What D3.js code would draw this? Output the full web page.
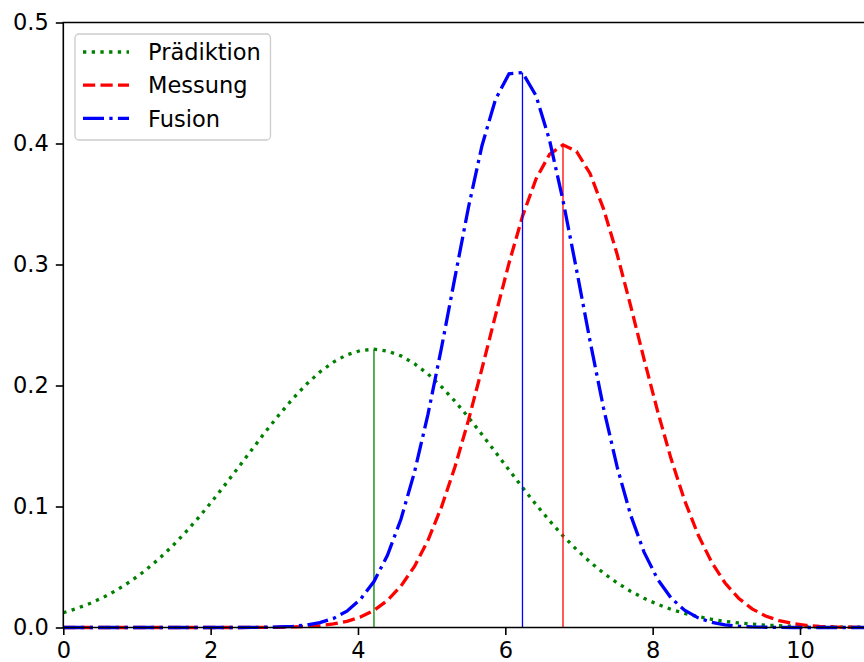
<!DOCTYPE html>
<html lang="de">

<head>
    <meta charset="UTF-8">
    <title>Prädiktion / Messung / Fusion</title>
    <style>
        body {
            margin: 0;
            background: white;
        }

        #svg {
            display: block;
            font-family: "DejaVu Sans", sans-serif;
        }
    </style>
    <script src="https://d3js.org/d3.v7.min.js"></script>
</head>

<body>
    <svg id="svg"></svg>
    <script>
        // x grid of the sampled curves (61 samples from 0 to 11)
        const xs = [0, 0.183, 0.367, 0.55, 0.733, 0.917, 1.1, 1.283, 1.467, 1.65,
            1.833, 2.017, 2.2, 2.383, 2.567, 2.75, 2.933, 3.117, 3.3, 3.483,
            3.667, 3.85, 4.033, 4.217, 4.4, 4.583, 4.767, 4.95, 5.133, 5.317,
            5.5, 5.683, 5.867, 6.05, 6.233, 6.417, 6.6, 6.783, 6.967, 7.15,
            7.333, 7.517, 7.7, 7.883, 8.067, 8.25, 8.433, 8.617, 8.8, 8.983,
            9.167, 9.35, 9.533, 9.717, 9.9, 10.083, 10.267, 10.45, 10.633, 10.817, 11];

        const praediktion = [0.0122, 0.0157, 0.0200, 0.0251, 0.0312, 0.0383, 0.0465, 0.0559, 0.0664, 0.0780,
            0.0906, 0.1041, 0.1183, 0.1328, 0.1476, 0.1622, 0.1761, 0.1892, 0.2010, 0.2112,
            0.2194, 0.2254, 0.2289, 0.2300, 0.2285, 0.2245, 0.2180, 0.2095, 0.1990, 0.1869,
            0.1737, 0.1595, 0.1449, 0.1302, 0.1157, 0.1016, 0.0883, 0.0758, 0.0644, 0.0541,
            0.0450, 0.0369, 0.0300, 0.0241, 0.0192, 0.0150, 0.0117, 0.0090, 0.0068, 0.0051,
            0.0038, 0.0028, 0.0020, 0.0015, 0.0010, 0.0007, 0.0005, 0.0004, 0.0002, 0.0002, 0.0001];

        const messung = [0, 0, 0, 0, 0, 0, 0, 0, 0, 0,
            0, 0, 0, 0, 0.0001, 0.0001, 0.0002, 0.0005, 0.0009, 0.0016,
            0.0029, 0.0051, 0.0087, 0.0142, 0.0224, 0.0342, 0.0505, 0.0721, 0.0995, 0.1328,
            0.1714, 0.2139, 0.2581, 0.3011, 0.3398, 0.3707, 0.3910, 0.3989, 0.3934, 0.3752,
            0.3460, 0.3086, 0.2661, 0.2218, 0.1788, 0.1394, 0.1051, 0.0766, 0.0540, 0.0368,
            0.0242, 0.0154, 0.0095, 0.0057, 0.0033, 0.0018, 0.0010, 0.0005, 0.0003, 0.0001, 0.0001];

        const fusion = [0, 0, 0, 0, 0, 0, 0, 0, 0, 0,
            0, 0, 0, 0, 0.0001, 0.0002, 0.0005, 0.0010, 0.0020, 0.0040,
            0.0075, 0.0135, 0.0232, 0.0380, 0.0597, 0.0895, 0.1284, 0.1761, 0.2310, 0.2896,
            0.3473, 0.3982, 0.4365, 0.4576, 0.4586, 0.4395, 0.4028, 0.3529, 0.2956, 0.2368,
            0.1814, 0.1329, 0.0931, 0.0623, 0.0399, 0.0244, 0.0143, 0.0080, 0.0043, 0.0022,
            0.0011, 0.0005, 0.0002, 0.0001, 0, 0, 0, 0, 0, 0, 0];

        const seriesNames = ['Prädiktion', 'Messung', 'Fusion'];
        const xTicks = [0, 2, 4, 6, 8, 10];
        const yTicks = [0, 0.1, 0.2, 0.3, 0.4, 0.5];

        const width = 864;
        const height = 662;
        const margin = { top: 22.5, left: 63.3, bottom: 34.5 };
        const plotW = 11 * 73.67;   // x axis runs to 11, cut off by the right edge
        const plotH = height - margin.top - margin.bottom;
        const fontSize = '22.5px';

        const styles = [
            { color: '#008000', dash: '3.3,5.4' },
            { color: '#ff0000', dash: '12.2,5.3' },
            { color: '#0000ff', dash: '21,5.3,3.3,5.3' }
        ];
        const series = [praediktion, messung, fusion];

        const svg = d3.select('#svg')
            .attr('width', width)
            .attr('height', height);

        const x = d3.scaleLinear().domain([0, 11]).range([0, plotW]);
        const y = d3.scaleLinear().domain([0, 0.5]).range([plotH, 0]);

        const g = svg.append('g')
            .attr('transform', 'translate(' + margin.left + ',' + margin.top + ')');

        const line = d3.line()
            .x((d, i) => x(xs[i]))
            .y(d => y(d));

        // curves + vertical line at each sampled maximum
        series.forEach(function (vals, s) {
            g.append('path')
                .datum(vals)
                .attr('d', line)
                .attr('fill', 'none')
                .attr('stroke', styles[s].color)
                .attr('stroke-width', 3.3)
                .attr('stroke-dasharray', styles[s].dash);
            const im = d3.maxIndex(vals);
            g.append('line')
                .attr('x1', x(xs[im]))
                .attr('x2', x(xs[im]))
                .attr('y1', y(0))
                .attr('y2', y(vals[im]))
                .attr('stroke', styles[s].color)
                .attr('stroke-width', 1.3);
        });

        // axes
        const xAxis = g.append('g')
            .attr('transform', 'translate(0,' + plotH + ')')
            .call(d3.axisBottom(x).tickValues(xTicks).tickSize(7.5).tickPadding(7).tickFormat(d3.format('d')));
        const yAxis = g.append('g')
            .call(d3.axisLeft(y).tickValues(yTicks).tickSize(7.5).tickPadding(7).tickFormat(d3.format('.1f')));
        [xAxis, yAxis].forEach(function (a) {
            a.select('.domain').remove();
            a.selectAll('line').attr('stroke', 'black').attr('stroke-width', 1.6);
            a.selectAll('text')
                .attr('fill', 'black')
                .style('font-family', '"DejaVu Sans", sans-serif')
                .style('font-size', fontSize);
        });

        // spines (left, bottom, top)
        g.append('path')
            .attr('d', 'M' + x(11) + ',0H0V' + plotH + 'H' + x(11))
            .attr('fill', 'none')
            .attr('stroke', 'black')
            .attr('stroke-width', 1.6);

        // legend
        const legend = g.append('g')
            .attr('transform', 'translate(' + (75 - margin.left) + ',' + (34 - margin.top) + ')');
        legend.append('rect')
            .attr('width', 195.5)
            .attr('height', 106)
            .attr('rx', 4)
            .attr('fill', 'white')
            .attr('fill-opacity', 0.8)
            .attr('stroke', '#cccccc')
            .attr('stroke-width', 1.3);
        const rows = legend.selectAll('.row')
            .data(seriesNames)
            .enter()
            .append('g')
            .attr('class', 'row')
            .attr('transform', (d, i) => 'translate(0,' + (18 + i * 33.2) + ')');
        rows.append('line')
            .attr('x1', 8)
            .attr('x2', 54)
            .attr('stroke', (d, i) => styles[i].color)
            .attr('stroke-width', 3.3)
            .attr('stroke-dasharray', (d, i) => styles[i].dash);
        rows.append('text')
            .attr('x', 73)
            .attr('dy', '0.36em')
            .attr('fill', 'black')
            .style('font-size', fontSize)
            .text(d => d);
    </script>
</body>

</html>
